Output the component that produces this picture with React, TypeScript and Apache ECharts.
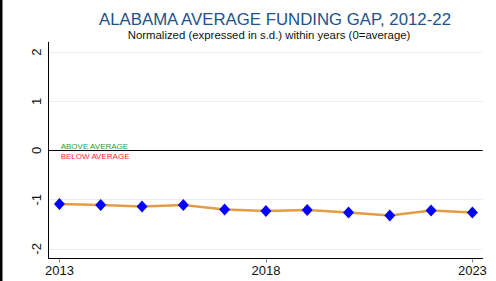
import React, { useEffect, useRef } from "react";
import * as echarts from "echarts";

const years = [2013, 2014, 2015, 2016, 2017, 2018, 2019, 2020, 2021, 2022, 2023];
const gapValues = [-1.09, -1.11, -1.14, -1.11, -1.2, -1.23, -1.21, -1.26, -1.32, -1.22, -1.26];
const xTicks = [2013, 2018, 2023];
const yTicks = [-2, -1, 0, 1, 2];
const titleText = "ALABAMA AVERAGE FUNDING GAP, 2012-22";
const subtitleText = "Normalized (expressed in s.d.) within years (0=average)";
const aboveLabel = "ABOVE AVERAGE";
const belowLabel = "BELOW AVERAGE";

const FONT = "'Liberation Sans', Arial, Helvetica, sans-serif";

export default function App() {
  const ref = useRef<HTMLDivElement>(null);
  useEffect(() => {
    if (!ref.current) return;
    const chart = echarts.init(ref.current, null, { renderer: "svg" });
    const data = years.map((y, i) => [y, gapValues[i]]);
    chart.setOption({
      animation: false,
      backgroundColor: "#ffffff",
      textStyle: { fontFamily: FONT },
      title: [
        {
          text: titleText,
          left: 270,
          top: 6,
          textAlign: "center",
          textStyle: { fontFamily: FONT, fontSize: 16.8, fontWeight: "normal", color: "#22528a" },
        },
        {
          text: subtitleText,
          left: 264,
          top: 24,
          textAlign: "center",
          textStyle: { fontFamily: FONT, fontSize: 11.4, fontWeight: "normal", color: "#111" },
        },
      ],
      grid: { left: 48.3, right: 13.3, top: 42.3, bottom: 22.3 },
      xAxis: {
        type: "value",
        min: 2012.73,
        max: 2023.25,
        axisLine: { show: true, onZero: false, lineStyle: { color: "#000", width: 1 } },
        axisTick: { show: true, length: 4, customValues: xTicks, lineStyle: { color: "#888" } },
        axisLabel: {
          customValues: xTicks,
          fontFamily: FONT,
          fontSize: 13,
          color: "#111",
          margin: 5,
          formatter: (v: number) => String(v),
        },
        splitLine: { show: false },
      },
      yAxis: {
        type: "value",
        min: -2.2,
        max: 2.2,
        axisLine: { show: true, lineStyle: { color: "#000", width: 1 } },
        axisTick: { show: false, length: 4, customValues: yTicks },
        axisLabel: {
          customValues: yTicks,
          fontFamily: FONT,
          fontSize: 13,
          color: "#111",
          rotate: 90,
          margin: 5,
          formatter: (v: number) => String(v),
        },
        splitLine: { show: true, lineStyle: { color: "#ececec", width: 1 } },
      },
      graphic: [
        { type: "rect", shape: { x: 0, y: 0, width: 2.5, height: 281 }, style: { fill: "#000" } },
        {
          type: "text",
          x: 60.7,
          y: 146,
          style: { text: aboveLabel, fontFamily: FONT, fontSize: 8, fill: "#2f9a2f", verticalAlign: "middle" },
        },
        {
          type: "text",
          x: 60.7,
          y: 156,
          style: { text: belowLabel, fontFamily: FONT, fontSize: 8, fill: "#ff2a2a", verticalAlign: "middle" },
        },
      ],
      series: [
        {
          type: "line",
          data,
          symbol: "diamond",
          symbolSize: [11, 12],
          itemStyle: { color: "#0000ff" },
          lineStyle: { color: "#e39d42", width: 2.5 },
          z: 3,
          markLine: {
            silent: true,
            symbol: "none",
            label: { show: false },
            lineStyle: { color: "#000", width: 1, type: "solid" },
            data: [{ yAxis: 0 }],
            z: 2,
          },
        },
      ],
    });
    return () => chart.dispose();
  }, []);
  return (
    <div
      ref={ref}
      style={{ position: "fixed", left: 0, top: 0, width: 496, height: 281, background: "#fff" }}
    />
  );
}
